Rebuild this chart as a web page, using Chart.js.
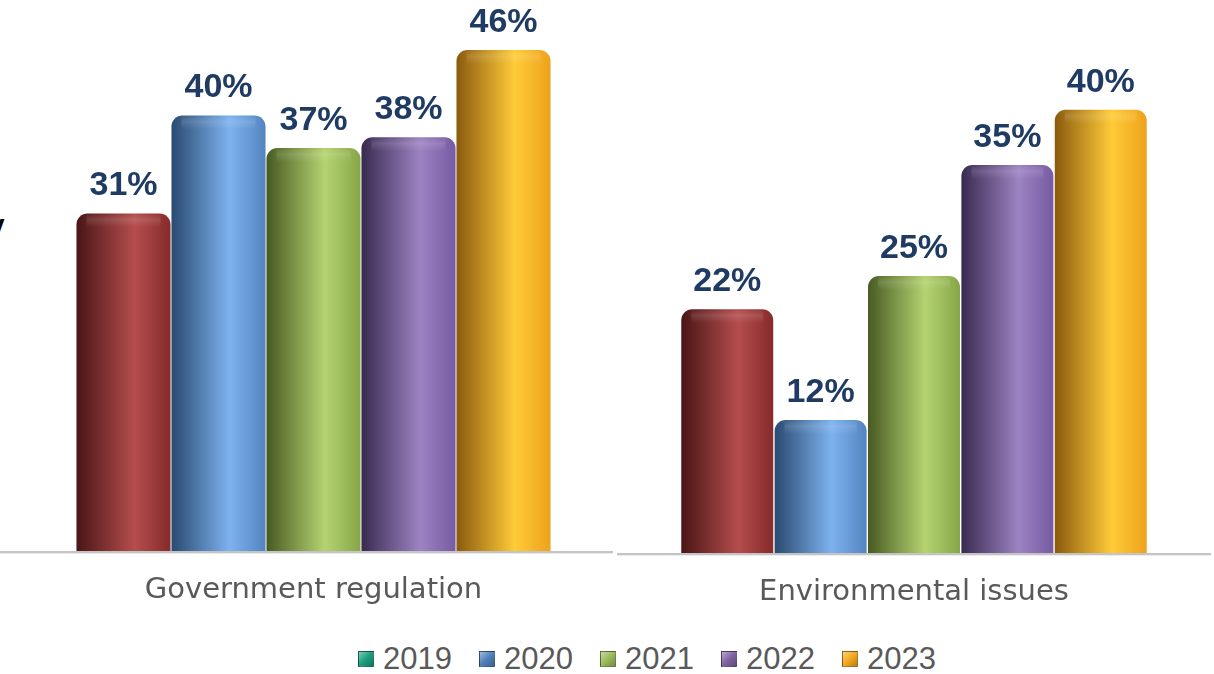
<!DOCTYPE html>
<html>
<head>
<meta charset="utf-8">
<script src="https://cdn.jsdelivr.net/npm/chart.js@4.4.1/dist/chart.umd.min.js"></script>
<style>
  html, body { margin: 0; padding: 0; background: #fff; overflow: hidden; }
  #wrap { position: relative; width: 1214px; height: 674px; }
  #leftBox { position: absolute; left: 0; top: 0; width: 614px; height: 620px; }
  #rightBox { position: absolute; left: 617px; top: 0; width: 597px; height: 620px; }
  #cut { position: absolute; left: -11px; top: 211px; font: bold 28px "Liberation Sans", Arial, sans-serif; line-height: 28px; color: #000; }
  #legend { position: absolute; left: 0; width: 1294px; top: 641px; display: flex; justify-content: center; gap: 27px;
            font: 31px "Liberation Sans", Arial, sans-serif; color: #595959; }
  .item { display: flex; align-items: center; }
  .mark { width: 16px; height: 16px; margin-right: 9px; box-sizing: border-box; }
</style>
</head>
<body>
<div id="wrap">
  <div id="cut">y</div>
  <div id="leftBox"><canvas id="leftChart"></canvas></div>
  <div id="rightBox"><canvas id="rightChart"></canvas></div>
  <div id="legend"></div>
</div>
<script>
const categories = ['Government regulation', 'Environmental issues'];
const years = ['2019', '2020', '2021', '2022', '2023'];
const govValues = [31, 40, 37, 38, 46];
const envValues = [22, 12, 25, 35, 40];

// bar shading: left edge, highlight, right edge
const barShades = [
  ['#4a1515', '#b54d4d', '#862a2a'],
  ['#2a4a70', '#7db2ef', '#5384c0'],
  ['#485a22', '#b4d370', '#86a546'],
  ['#392a50', '#9c83c2', '#775ba3'],
  ['#8a5a0e', '#ffcb38', '#eea21c']
];
const legendColors = ['#19a07e', '#4f81bd', '#9bbb59', '#8064a2', '#f6a81e'];

const barStyle = {
  id: 'barStyle',
  beforeDatasetsDraw(chart) {
    const c = chart.ctx;
    chart.data.datasets.forEach((ds, i) => {
      chart.getDatasetMeta(i).data.forEach(el => {
        const g = c.createLinearGradient(el.x - el.width / 2, 0, el.x + el.width / 2, 0);
        const s = barShades[i];
        g.addColorStop(0, s[0]);
        g.addColorStop(0.62, s[1]);
        g.addColorStop(1, s[2]);
        el.options = Object.assign({}, el.options, { backgroundColor: g });
      });
    });
  },
  afterDatasetsDraw(chart) {
    const c = chart.ctx;
    chart.data.datasets.forEach((ds, i) => {
      chart.getDatasetMeta(i).data.forEach((el, j) => {
        // soft top highlight
        const g = c.createLinearGradient(0, el.y, 0, el.y + 14);
        g.addColorStop(0, 'rgba(255,255,255,0.0)');
        g.addColorStop(0.45, 'rgba(255,255,255,0.12)');
        g.addColorStop(1, 'rgba(255,255,255,0)');
        c.save();
        c.fillStyle = g;
        c.fillRect(el.x - el.width / 2 + 10, el.y + 1, el.width - 20, 13);
        c.restore();
        // value label
        c.save();
        c.font = 'bold 34px "Liberation Sans", Arial, sans-serif';
        c.fillStyle = '#1f3b63';
        c.textAlign = 'center';
        c.textBaseline = 'alphabetic';
        c.fillText(ds.data[j] + '%', el.x, el.y - 18);
        c.restore();
      });
    });
  },
  afterDraw(chart, args, opts) {
    const c = chart.ctx;
    const y0 = chart.scales.y.getPixelForValue(0);
    c.save();
    c.strokeStyle = '#c4c4c4';
    c.lineWidth = 2;
    c.beginPath();
    c.moveTo(opts.from, y0 + 1);
    c.lineTo(opts.to, y0 + 1);
    c.stroke();
    c.strokeStyle = '#ececec';
    c.lineWidth = 1;
    c.beginPath();
    c.moveTo(opts.from, y0 + 2.5);
    c.lineTo(opts.to, y0 + 2.5);
    c.stroke();
    // category label
    c.font = '29px "DejaVu Sans", Verdana, sans-serif';
    c.fillStyle = '#595959';
    c.textAlign = 'center';
    c.textBaseline = 'middle';
    chart.data.labels.forEach((lab, k) => {
      c.fillText(lab, chart.scales.x.getPixelForValue(k), y0 + 39);
    });
    c.restore();
  }
};

function makeChart(id, label, values, yMax, pad, catPct, barPct, line) {
  return new Chart(document.getElementById(id), {
    type: 'bar',
    data: {
      labels: [label],
      datasets: years.map((yr, k) => ({
        label: yr,
        data: [values[k]],
        backgroundColor: barShades[k][1],
        borderWidth: 0,
        borderRadius: { topLeft: 11, topRight: 11, bottomLeft: 0, bottomRight: 0 },
        borderSkipped: 'bottom',
        categoryPercentage: catPct,
        barPercentage: barPct
      }))
    },
    options: {
      responsive: true,
      maintainAspectRatio: false,
      animation: false,
      layout: { padding: pad },
      scales: {
        x: { display: false },
        y: { display: false, min: 0, max: yMax }
      },
      plugins: {
        legend: { display: false },
        tooltip: { enabled: false },
        barStyle: line
      }
    },
    plugins: [barStyle]
  });
}

makeChart('leftChart', categories[0], govValues, 50.6,
  { left: 14, right: 1, top: 0, bottom: 69 }, 0.793, 0.99, { from: 0, to: 613 });
makeChart('rightChart', categories[1], envValues, 49.9,
  { left: 0, right: 3, top: 0, bottom: 67 }, 0.786, 0.985, { from: 0, to: 594 });

const legend = document.getElementById('legend');
years.forEach((yr, k) => {
  const item = document.createElement('div');
  item.className = 'item';
  const m = document.createElement('span');
  m.className = 'mark';
  const col = legendColors[k];
  m.style.background = 'linear-gradient(135deg, rgba(255,255,255,0.45), rgba(255,255,255,0) 50%, rgba(0,0,0,0.25)), ' + col;
  m.style.border = '1px solid rgba(0,0,0,0.35)';
  item.appendChild(m);
  const t = document.createElement('span');
  t.textContent = yr;
  item.appendChild(t);
  legend.appendChild(item);
});
</script>
</body>
</html>
